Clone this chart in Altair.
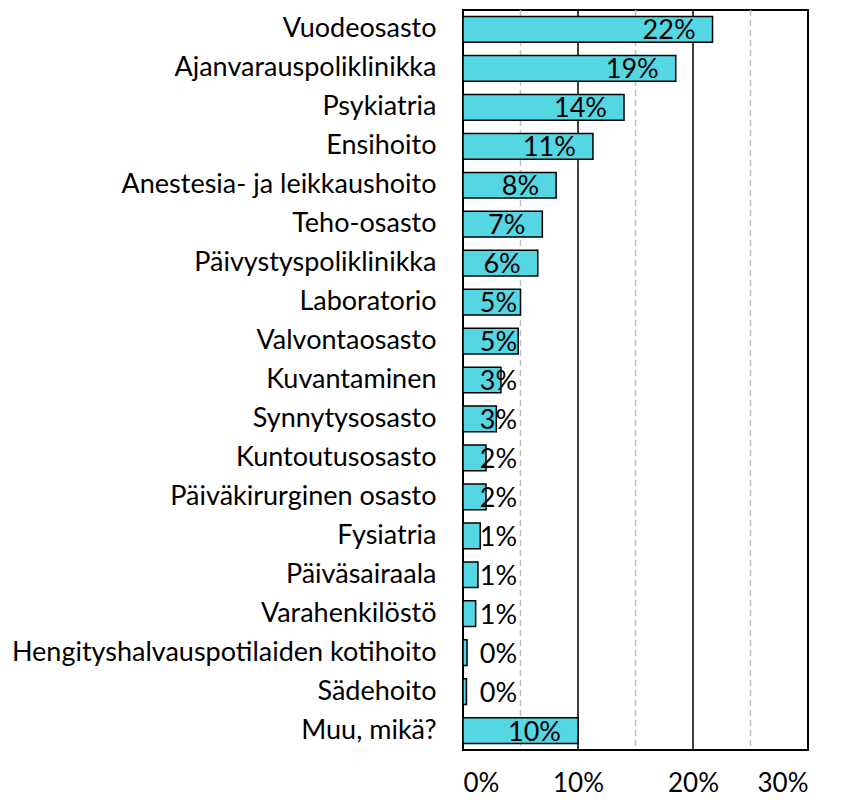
import altair as alt
import pandas as pd

categories = [
    "Vuodeosasto", "Ajanvarauspoliklinikka", "Psykiatria", "Ensihoito",
    "Anestesia- ja leikkaushoito", "Teho-osasto", "Päivystyspoliklinikka",
    "Laboratorio", "Valvontaosasto", "Kuvantaminen", "Synnytysosasto",
    "Kuntoutusosasto", "Päiväkirurginen osasto", "Fysiatria", "Päiväsairaala",
    "Varahenkilöstö", "Hengityshalvauspotilaiden kotihoito", "Sädehoito",
    "Muu, mikä?",
]
values = [21.7, 18.5, 14.0, 11.3, 8.1, 6.9, 6.5, 5.0, 4.8, 3.3, 2.9,
          2.0, 2.0, 1.5, 1.3, 1.1, 0.35, 0.3, 10.0]
labels = ["22%", "19%", "14%", "11%", "8%", "7%", "6%", "5%", "5%", "3%", "3%",
          "2%", "2%", "1%", "1%", "1%", "0%", "0%", "10%"]
major_grid = [10, 20]
minor_grid = [5, 15, 25]
frame_x = [0, 30]
x_ticks = [0, 10, 20, 30]

df = pd.DataFrame({"cat": categories, "v": values, "lab": labels})
FONT = "Lato"

x_scale = alt.Scale(domain=[0, 30], nice=False, zero=True)
y_enc = alt.Y("cat:N", sort=categories, title=None,
              scale=alt.Scale(paddingInner=0.34, paddingOuter=0.17),
              axis=alt.Axis(ticks=False, domain=False, labelPadding=27,
                            labelFontSize=27, labelFont=FONT, labelColor="black",
                            labelLimit=0))

minor = alt.Chart(pd.DataFrame({"g": minor_grid})).mark_rule(
    color="#BFBFBF", strokeWidth=1.5, strokeDash=[6, 4]
).encode(x=alt.X("g:Q", scale=x_scale))

major = alt.Chart(pd.DataFrame({"g": major_grid})).mark_rule(
    color="black", strokeWidth=1.5
).encode(x=alt.X("g:Q", scale=x_scale))

frame_side = alt.Chart(pd.DataFrame({"g": frame_x})).mark_rule(
    color="black", strokeWidth=2
).encode(x=alt.X("g:Q", scale=x_scale))

bars = alt.Chart(df).mark_bar(
    color="#55D6E3", stroke="black", strokeWidth=1.5
).encode(
    x=alt.X("v:Q", scale=x_scale, title=None,
            axis=alt.Axis(values=x_ticks, labelExpr="datum.value + '%'",
                          grid=False, ticks=False, domain=False,
                          labelPadding=20, labelBaseline="top",
                          labelFontSize=26, labelFont=FONT,
                          labelColor="black")),
    y=y_enc,
)

text = alt.Chart(df).transform_calculate(
    lx="max(datum.v - 1.48, 4.7)"
).mark_text(
    align="right", baseline="middle", fontSize=27, font=FONT, color="black", dy=2
).encode(
    x=alt.X("lx:Q", scale=x_scale),
    y=alt.Y("cat:N", sort=categories),
    text="lab:N",
)

chart = alt.layer(minor, major, frame_side, bars, text).properties(
    width=345, height=740,
    autosize=alt.AutoSizeParams(type="none"),
    padding={"left": 455, "top": 2, "right": 26, "bottom": 46},
).configure(
    background="white",
    view=alt.ViewConfig(stroke="black", strokeWidth=2),
)

chart.save("out.html", embed_options={"renderer": "svg", "actions": False})
